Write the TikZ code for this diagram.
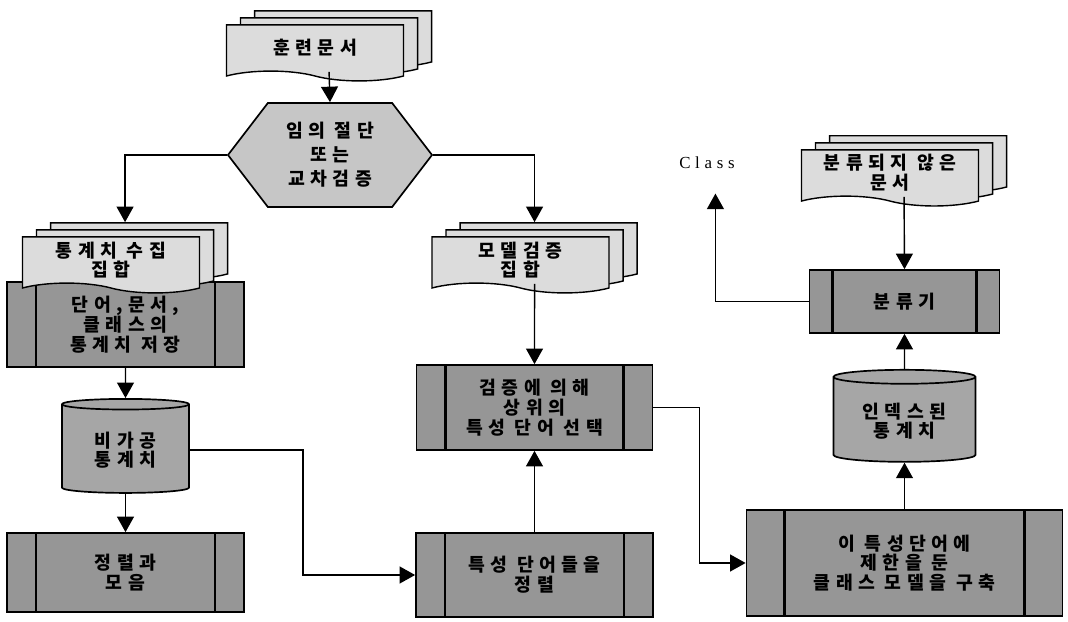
\documentclass[tikz,border=0pt]{standalone}
\usepackage{fontspec}
\newfontfamily\krfont{Noto Sans CJK KR}[LetterSpace=30]
\newfontfamily\clsfont{Liberation Serif}[LetterSpace=28]
\usetikzlibrary{shapes.geometric,shapes.symbols,arrows.meta,shadows}
\definecolor{docgray}{RGB}{220,220,220}
\definecolor{boxgray}{RGB}{150,150,150}
\definecolor{cylgray}{RGB}{166,166,166}
\definecolor{hexgray}{RGB}{198,198,198}

\begin{document}
\begin{tikzpicture}[
  x=0.025cm, y=-0.025cm,
  font=\krfont\bfseries\fontsize{13}{14}\selectfont,
  docpage/.style={tape, tape bend top=none, tape bend bottom=out and in,
                  tape bend height=7pt, draw, line width=1pt, fill=docgray,
                  minimum width=4.425cm, minimum height=1.4cm, align=center,
                  general shadow={shadow xshift=20pt, shadow yshift=10pt,
                                  fill=docgray, draw=black, line width=1pt},
                  general shadow={shadow xshift=10pt, shadow yshift=5pt,
                                  fill=docgray, draw=black, line width=1pt}},
  procbox/.style={rectangle, draw, line width=1.2pt, fill=boxgray, align=center,
                  path picture={
                    \draw[line width=1.6pt]
                      ([xshift=#1]path picture bounding box.north west) --
                      ([xshift=#1]path picture bounding box.south west)
                      ([xshift=-#1]path picture bounding box.north east) --
                      ([xshift=-#1]path picture bounding box.south east);}},
  store/.style={cylinder, shape border rotate=90, shape aspect=0.15, draw,
                line width=1.2pt, fill=cylgray, align=center},
  splitbox/.style={signal, signal to=west and east, signal pointer angle=105,
                   draw, line width=1.2pt, fill=hexgray, align=center,
                   minimum width=5.1cm, minimum height=2.6cm},
  arrow/.style={-{Triangle[length=11pt,width=12pt]}, line width=1pt}
]
\useasboundingbox (0,0) rectangle (1068,622);

% Training documents and split
\node[docpage] (train) at (315,48) {훈련문서};
\node[splitbox] (split) at (330,155) {임의 절단\\[3pt]또는\\[3pt]교차검증};

% Left column
\node[procbox=20.6pt, minimum width=5.925cm, minimum height=2.125cm] (keep) at (125.5,324.5)
  {단어,문서,\\클래스의\\통계치 저장};
\node[docpage] (statdocs) at (111,260) {통계치 수집\\집합};
\node[store, minimum width=3.175cm, minimum height=2.35cm] (raw) at (125.5,450) {비가공\\통계치};
\node[procbox=20.6pt, minimum width=5.925cm, minimum height=1.975cm] (gather) at (125.5,572.5)
  {정렬과\\모음};

% Middle column
\node[docpage] (valdocs) at (520.5,260) {모델검증\\집합};
\node[procbox=20.6pt, minimum width=5.9cm, minimum height=2.125cm] (select) at (534.5,407.5)
  {검증에 의해\\상위의\\특성 단어 선택};
\node[procbox=20.6pt, minimum width=5.925cm, minimum height=2.1cm] (rank) at (534.5,575)
  {특성 단어들을\\정렬};

% Right column
\node[docpage] (newdocs) at (890,173) {분류되지 않은\\문서};
\node[procbox=16.4pt, minimum width=4.75cm, minimum height=1.575cm] (classifier) at (904.5,301.5)
  {분류기};
\node[store, minimum width=3.55cm, minimum height=2.3cm] (indexed) at (904.5,421) {인덱스된\\통계치};
\node[procbox=27pt, minimum width=7.9cm, minimum height=2.65cm] (build) at (904.5,563)
  {이 특성단어에\\제한을 둔\\클래스 모델을 구축};
\node[font=\clsfont\fontsize{12}{13}\selectfont] (cls) at (707,163) {Class};

% Arrows
\draw[arrow] ([xshift=10pt]train.south) -- (split.north);
\draw[arrow] (split.west) -| ([xshift=10pt,yshift=10pt]statdocs.north);
\draw[arrow] (split.east) -| ([xshift=10pt,yshift=10pt]valdocs.north);
\draw[arrow] (keep.south) -- (raw.north);
\draw[arrow] (raw.south) -- (gather.north);
\draw[arrow] (raw.east) -- ++(113,0) |- (rank.west);
\draw[arrow] ([xshift=10pt]valdocs.south) -- (select.north);
\draw[arrow] (rank.north) -- (select.south);
\draw[arrow] (select.east) -- ++(46,0) |- (build.west);
\draw[arrow] (build.north) -- (indexed.south);
\draw[arrow] (indexed.north) -- (classifier.south);
\draw[arrow] ([xshift=10pt]newdocs.south) -- (classifier.north);
\draw[arrow, shorten >=14pt] (classifier.west) -| ([xshift=6pt]cls.south);

\end{tikzpicture}
\end{document}
